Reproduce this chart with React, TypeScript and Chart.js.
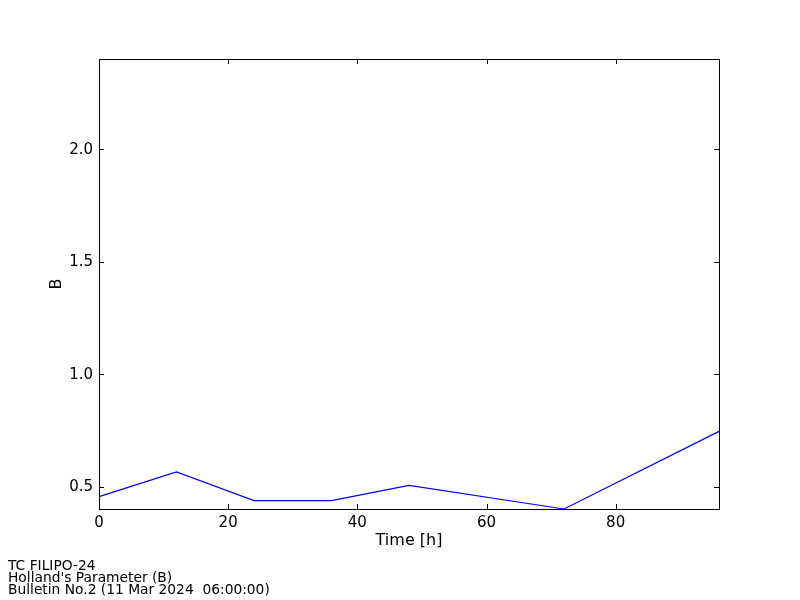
import React, { useEffect, useRef } from "react";
import { Chart, registerables } from "chart.js";

Chart.register(...registerables);

const timeHours = [0, 12, 24, 36, 48, 72, 96];
const hollandB = [0.455, 0.565, 0.437, 0.437, 0.505, 0.4, 0.745];
const xTickValues = [0, 20, 40, 60, 80];
const yTickValues = [0.5, 1.0, 1.5, 2.0];
const footerLines = [
  "TC FILIPO-24",
  "Holland's Parameter (B)",
  "Bulletin No.2 (11 Mar 2024  06:00:00)",
];

const FONT = "'DejaVu Sans', sans-serif";

const frameTicksPlugin = {
  id: "frameTicks",
  afterDatasetsDraw(chart: any) {
    const { ctx, chartArea } = chart;
    const { left, right, top, bottom } = chartArea;
    const xs = chart.scales.x;
    const ys = chart.scales.y;
    const len = 5;
    ctx.save();
    ctx.strokeStyle = "#000";
    ctx.lineWidth = 1;
    ctx.beginPath();
    xTickValues.forEach((v) => {
      const px = Math.round(xs.getPixelForValue(v)) + 0.5;
      ctx.moveTo(px, bottom);
      ctx.lineTo(px, bottom - len);
      ctx.moveTo(px, top);
      ctx.lineTo(px, top + len);
    });
    yTickValues.forEach((v) => {
      const py = Math.round(ys.getPixelForValue(v)) + 0.5;
      ctx.moveTo(left, py);
      ctx.lineTo(left + len, py);
      ctx.moveTo(right, py);
      ctx.lineTo(right - len, py);
    });
    ctx.stroke();
    ctx.strokeRect(Math.round(left) + 0.5, Math.round(top) + 0.5, Math.round(right - left), Math.round(bottom - top));
    ctx.restore();
  },
  afterDraw(chart: any) {
    const { ctx } = chart;
    ctx.save();
    ctx.fillStyle = "#000";
    ctx.font = `13.8px ${FONT}`;
    ctx.textAlign = "left";
    ctx.textBaseline = "alphabetic";
    footerLines.forEach((line, i) => {
      ctx.fillText(line, 8, 570 + i * 12);
    });
    ctx.restore();
  },
};

export default function App() {
  const canvasRef = useRef<HTMLCanvasElement | null>(null);

  useEffect(() => {
    if (!canvasRef.current) return;
    const chart = new Chart(canvasRef.current, {
      type: "line",
      data: {
        datasets: [
          {
            data: timeHours.map((t, i) => ({ x: t, y: hollandB[i] })),
            borderColor: "#0000ff",
            borderWidth: 1.2,
            pointRadius: 0,
            fill: false,
            tension: 0,
            clip: 2,
          },
        ],
      },
      options: {
        animation: false,
        responsive: false,
        devicePixelRatio: 1,
        layout: { padding: { left: 47, top: 59, right: 81, bottom: 50 } },
        plugins: {
          legend: { display: false },
          tooltip: { enabled: false },
          title: { display: false },
        },
        scales: {
          x: {
            type: "linear",
            min: 0,
            max: 96,
            grid: { display: false, drawTicks: false, tickLength: 0 },
            border: { display: false },
            afterBuildTicks: (scale: any) => {
              scale.ticks = xTickValues.map((v) => ({ value: v }));
            },
            afterFit: (scale: any) => {
              scale.height = 41;
            },
            ticks: {
              padding: 5,
              color: "#000",
              font: { family: FONT, size: 15 },
              maxRotation: 0,
              callback: (v: any) => String(v),
            },
            title: {
              display: true,
              text: "Time [h]",
              color: "#000",
              padding: 0,
              font: { family: FONT, size: 16 },
            },
          },
          y: {
            type: "linear",
            min: 0.4,
            max: 2.4,
            grid: { display: false, drawTicks: false, tickLength: 0 },
            border: { display: false },
            afterBuildTicks: (scale: any) => {
              scale.ticks = yTickValues.map((v) => ({ value: v }));
            },
            afterFit: (scale: any) => {
              scale.width = 52;
            },
            ticks: {
              padding: 6,
              labelOffset: 1,
              color: "#000",
              font: { family: FONT, size: 15 },
              callback: (v: any) => Number(v).toFixed(1),
            },
            title: {
              display: true,
              text: "B",
              color: "#000",
              padding: 0,
              font: { family: FONT, size: 16 },
            },
          },
        },
      },
      plugins: [frameTicksPlugin],
    });
    return () => chart.destroy();
  }, []);

  return (
    <div style={{ position: "fixed", left: 0, top: 0, width: 800, height: 600, background: "#fff" }}>
      <canvas ref={canvasRef} width={800} height={600} style={{ display: "block" }} />
    </div>
  );
}
